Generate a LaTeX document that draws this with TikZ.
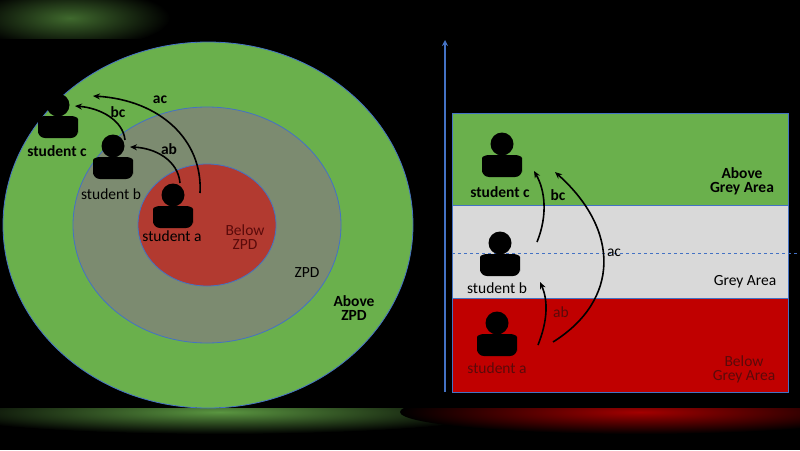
\documentclass[tikz,border=0pt]{standalone}
\usepackage{fontspec}
\setmainfont{Carlito}
\usetikzlibrary{arrows.meta}
\definecolor{gA}{HTML}{6AB04C}
\definecolor{gZ}{HTML}{7C8B70}
\definecolor{rZ}{HTML}{B23A30}
\definecolor{rR}{HTML}{C00000}
\definecolor{gL}{HTML}{D9D9D9}
\definecolor{bl}{HTML}{4472C4}
\definecolor{dr}{HTML}{5A0A0A}
\tikzset{
  ring/.style={draw=bl, line width=0.8pt},
  lab/.style={font=\fontsize{15.5}{16}\selectfont, text=black, align=center},
  blab/.style={font=\bfseries\fontsize{15.5}{16}\selectfont, text=black, align=center},
  arr/.style={-{Stealth[length=7pt,width=6pt]}, line width=1.6pt, black},
  band/.style={draw=bl, line width=0.8pt},
  pic person/.pic={\fill[black] (0,-11) circle (11.5);
     \fill[black, rounded corners=7pt] (-20,22) -- (-20,10) .. controls (-20,1) and (-14,0) .. (-7,0) -- (7,0) .. controls (14,0) and (20,1) .. (20,10) -- (20,22) -- cycle;}
}
\begin{document}
\begin{tikzpicture}[x=1pt,y=-1pt]
\fill[black] (0,0) rectangle (800,450);
\useasboundingbox (0,0) rectangle (800,450);
% glows
\begin{scope}
\clip (0,0) rectangle (800,38);
\shade[inner color=gA!60!black, outer color=black] (70,18) ellipse (100 and 30);
\end{scope}
\begin{scope}
\clip (0,408) rectangle (800,450);
\shade[inner color=gA!85!black, outer color=black] (220,412) ellipse (280 and 22);
\shade[inner color=rR!85!black, outer color=black] (640,412) ellipse (240 and 22);
\end{scope}
% left ellipses
\fill[gA] (208,225) ellipse (205 and 183);
\draw[ring] (208,225) ellipse (205 and 183);
\fill[gZ] (207,225) ellipse (134 and 118);
\draw[ring] (207,225) ellipse (134 and 118);
\fill[rZ] (207,225) ellipse (69 and 61);
\draw[ring] (207,225) ellipse (69 and 61);
\node[lab, text=dr, inner sep=0] (belowz) at (245,237) {Below\\[-2pt]ZPD};
\node[lab, inner sep=0] (zpd) at (307,273) {ZPD};
\node[blab, inner sep=0] (abovez) at (354,308) {Above\\[-2pt]ZPD};
\pic at (173,206) {pic person};
\pic at (113,157) {pic person};
\pic at (58,116) {pic person};
\node[lab, inner sep=0] (sa) at (172,236) {student a};
\node[lab, inner sep=0] (sb) at (111,194) {student b};
\node[blab, inner sep=0] (sc) at (57,151) {student c};
\coordinate (a1) at (180,183); \coordinate (b1) at (130,147);
\coordinate (a2) at (200,193); \coordinate (c2) at (93,96);
\coordinate (b3) at (125,140); \coordinate (c3) at (75,106);
\draw[arr] (a1) .. controls (178,160) and (155,148) .. (b1);
\draw[arr] (a2) .. controls (203,140) and (160,100) .. (c2);
\draw[arr] (b3) .. controls (123,120) and (100,108) .. (c3);
\node[blab] (lac) at (160,100) {ac};
\node[blab] (lbc) at (118,112) {bc};
\node[blab] (lab1) at (169,149) {ab};
% right
\draw[bl, line width=1.6pt, -{Stealth[length=6pt,width=6pt]}] (445,392) coordinate (ax0) -- (445,40) coordinate (ax1);
\fill[gA] (452,113) rectangle (788,205);
\fill[gL] (452,205) rectangle (788,298);
\fill[rR] (452,298) rectangle (788,392);
\draw[band] (452,113) rectangle (788,392);
\draw[band] (452,205) -- (788,205);
\draw[band] (452,298) -- (788,298);
\draw[bl, dashed, line width=0.6pt] (452,253) -- (800,253);
\pic at (502,155) {pic person};
\pic at (500,254) {pic person};
\pic at (497,334) {pic person};
\node[blab, inner sep=0] (rc) at (500,192) {student c};
\node[lab, inner sep=0] (rb) at (497,288) {student b};
\node[lab, text=dr, inner sep=0] (ra) at (497,368) {student a};
\coordinate (p1) at (538,345); \coordinate (p2) at (540,282);
\coordinate (q1) at (537,242); \coordinate (q2) at (534,171);
\coordinate (r1) at (553,342); \coordinate (r2) at (555,172);
\draw[arr] (p1) .. controls (548,320) and (548,300) .. (p2);
\draw[arr] (q1) .. controls (548,215) and (545,190) .. (q2);
\draw[arr] (r1) .. controls (620,300) and (620,230) .. (r2);
\node[blab, inner sep=0] (rbc) at (558,195) {bc};
\node[lab, inner sep=0] (rac) at (614,253) {ac};
\node[lab, text=dr, inner sep=0] (rab) at (561,312) {ab};
\node[blab, inner sep=0] (tabove) at (742,181) {Above\\[-2pt]Grey Area};
\node[lab, inner sep=0] (tgrey) at (745,282) {Grey Area};
\node[lab, text=dr, inner sep=0] (tbelow) at (744,369) {Below\\[-2pt]Grey Area};
\end{tikzpicture}
\end{document}
